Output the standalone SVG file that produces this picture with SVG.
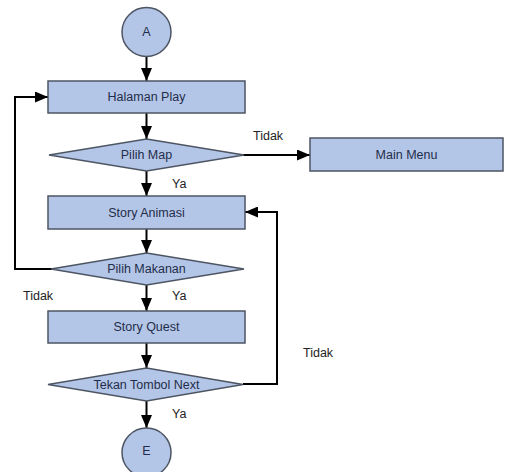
<svg xmlns="http://www.w3.org/2000/svg" width="506" height="472" viewBox="0 0 506 472">
<style>
.n{fill:#b4c6e7;stroke:#4d5563;stroke-width:1.5}
.t{font-family:"Liberation Sans",Arial,sans-serif;font-size:12.5px;fill:#1f2d4a;text-anchor:middle;dominant-baseline:central}
.l{font-family:"Liberation Sans",Arial,sans-serif;font-size:12.5px;fill:#222}
.c{fill:none;stroke:#000;stroke-width:2}
</style>
<defs>
<marker id="ah" markerUnits="userSpaceOnUse" markerWidth="13" markerHeight="11" refX="13" refY="5.5" orient="auto">
<path d="M0,0 L13,5.5 L0,11 Z" fill="#000"/>
</marker>
</defs>
<rect width="506" height="472" fill="#fff"/>
<g id="connectors">
<line class="c" x1="146.5" y1="57" x2="146.5" y2="81" marker-end="url(#ah)"/>
<line class="c" x1="146.5" y1="113" x2="146.5" y2="139" marker-end="url(#ah)"/>
<line class="c" x1="146.5" y1="171" x2="146.5" y2="196" marker-end="url(#ah)"/>
<line class="c" x1="243" y1="155" x2="310" y2="155" marker-end="url(#ah)"/>
<line class="c" x1="146.5" y1="229" x2="146.5" y2="253" marker-end="url(#ah)"/>
<polyline class="c" points="52,269 15,269 15,97 48,97" marker-end="url(#ah)"/>
<line class="c" x1="146.5" y1="285" x2="146.5" y2="311" marker-end="url(#ah)"/>
<line class="c" x1="146.5" y1="343" x2="146.5" y2="368" marker-end="url(#ah)"/>
<polyline class="c" points="243,384 277,384 277,212 245,212" marker-end="url(#ah)"/>
<line class="c" x1="146.5" y1="401" x2="146.5" y2="428" marker-end="url(#ah)"/>
</g>
<g id="startA">
<circle class="n" cx="146.5" cy="32" r="24.5"/>
<text class="t" x="146.5" y="32">A</text>
</g>
<g id="halamanPlay">
<rect class="n" x="48" y="81" width="197" height="32"/>
<text class="t" x="146.5" y="97">Halaman Play</text>
</g>
<g id="pilihMap">
<polygon class="n" points="146.5,139 244,155 146.5,171 49,155"/>
<text class="t" x="146.5" y="155">Pilih Map</text>
</g>
<g id="mainMenu">
<rect class="n" x="310" y="138" width="193" height="33"/>
<text class="t" x="406.5" y="155">Main Menu</text>
</g>
<g id="storyAnimasi">
<rect class="n" x="48" y="196" width="197" height="33"/>
<text class="t" x="146.5" y="212.5">Story Animasi</text>
</g>
<g id="pilihMakanan">
<polygon class="n" points="146.5,253 244,269 146.5,285 51,269"/>
<text class="t" x="146.5" y="269">Pilih Makanan</text>
</g>
<g id="storyQuest">
<rect class="n" x="48" y="311" width="197" height="32"/>
<text class="t" x="146.5" y="327">Story Quest</text>
</g>
<g id="tekanTombolNext">
<polygon class="n" points="146.5,368 243,384.5 146.5,401 48,384.5"/>
<text class="t" x="146.5" y="384.5">Tekan Tombol Next</text>
</g>
<g id="endE">
<circle class="n" cx="146.5" cy="452.5" r="24.5"/>
<text class="t" x="146.5" y="451">E</text>
</g>
<g id="labels">
<text class="l" x="253" y="140">Tidak</text>
<text class="l" x="172" y="188">Ya</text>
<text class="l" x="23" y="300">Tidak</text>
<text class="l" x="172" y="300">Ya</text>
<text class="l" x="303" y="357">Tidak</text>
<text class="l" x="172" y="418">Ya</text>
</g>
</svg>
